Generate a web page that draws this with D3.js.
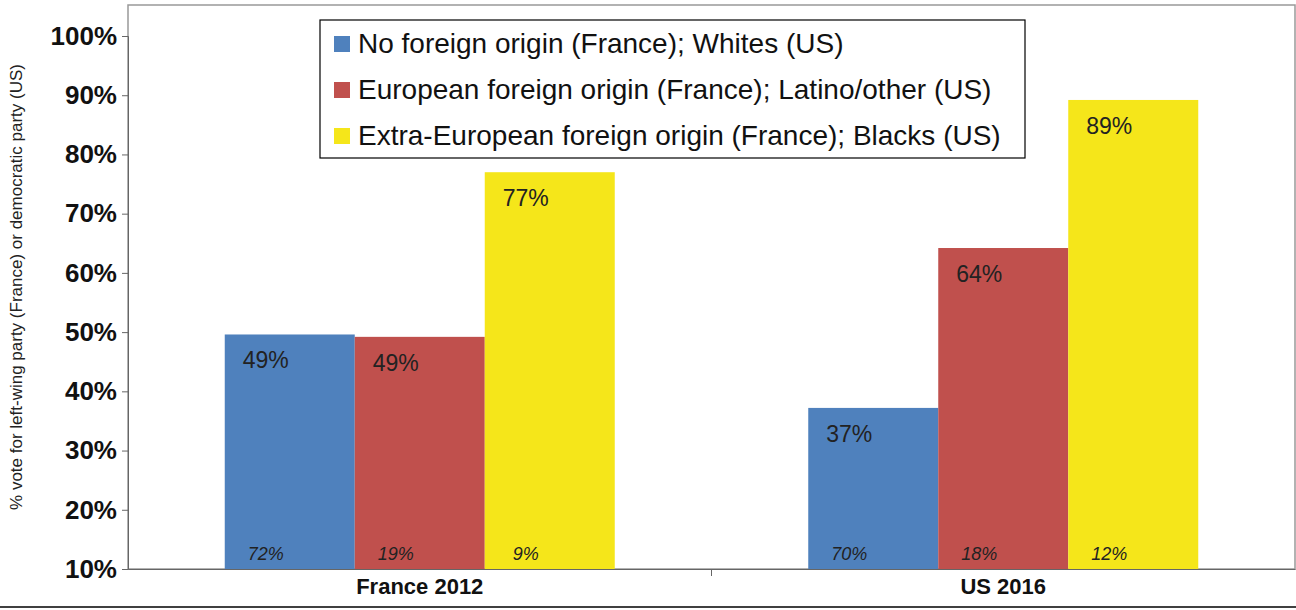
<!DOCTYPE html>
<html><head><meta charset="utf-8">
<script src="https://cdn.jsdelivr.net/npm/d3@7"></script>
<style>body{margin:0;background:#fff;font-family:"Liberation Sans",Arial,sans-serif}</style>
</head><body>
<svg id="c" width="1296" height="610"></svg>
<script>
// data
var categories = ["France 2012", "US 2016"];
var series = ["No foreign origin (France); Whites (US)",
              "European foreign origin (France); Latino/other (US)",
              "Extra-European foreign origin (France); Blacks (US)"];
var colors = ["#4f81bd", "#c0504d", "#f5e61a"];
var votes = [[49.6, 49.2, 77.0], [37.2, 64.2, 89.2]];
var voteLabels = [["49%", "49%", "77%"], ["37%", "64%", "89%"]];
var shareLabels = [["72%", "19%", "9%"], ["70%", "18%", "12%"]];
var yTicks = [10, 20, 30, 40, 50, 60, 70, 80, 90, 100];

var svg = d3.select("#c");
var L = 128, R = 1295, T = 5, B = 569;

var x0 = d3.scaleBand().domain(categories).range([L, R]);
var x1 = d3.scaleBand().domain(d3.range(3)).range([0, 390]);
var y = d3.scaleLinear().domain([10, 100]).range([B, 36]);

// plot frame
svg.append("rect").attr("x", L).attr("y", T).attr("width", R - L).attr("height", B - T)
  .attr("fill", "none").attr("stroke", "#999").attr("stroke-width", 1.5);

var g = svg.selectAll(".cat").data(categories).enter().append("g")
  .attr("transform", function(d) { return "translate(" + (x0(d) + x0.bandwidth() / 2 - 195) + ",0)"; });

g.each(function(c, ci) {
  var gg = d3.select(this);
  votes[ci].forEach(function(v, si) {
    var cx = x1(si) + x1.bandwidth() / 2 - 24;
    gg.append("rect").attr("x", x1(si)).attr("width", x1.bandwidth())
      .attr("y", y(v)).attr("height", B - y(v)).attr("fill", colors[si]);
    gg.append("text").attr("x", cx).attr("y", y(v) + 34)
      .attr("text-anchor", "middle").attr("font-size", 23).attr("fill", "#222").text(voteLabels[ci][si]);
    gg.append("text").attr("x", cx).attr("y", 560)
      .attr("text-anchor", "middle").attr("font-size", 18).attr("font-style", "italic")
      .attr("fill", "#222").text(shareLabels[ci][si]);
  });
});

// y axis
var ya = svg.append("g").attr("transform", "translate(" + L + ",0)")
  .call(d3.axisLeft(y).tickValues(yTicks).tickFormat(function(d) { return d + "%"; }).tickSize(6));
ya.select(".domain").attr("stroke", "#666");
ya.selectAll(".tick line").attr("stroke", "#666");
ya.selectAll("text").attr("font-size", 26).attr("font-weight", "bold").attr("fill", "#111")
  .attr("font-family", "Liberation Sans, Arial, sans-serif").attr("dx", -2);

// x axis
var xa = svg.append("g").attr("transform", "translate(0," + B + ")")
  .call(d3.axisBottom(x0).tickSize(0));
xa.select(".domain").attr("stroke", "#666");
xa.selectAll("text").attr("font-size", 22).attr("font-weight", "bold").attr("fill", "#111")
  .attr("font-family", "Liberation Sans, Arial, sans-serif").attr("dy", 22);
svg.append("line").attr("x1", x0.step() + L).attr("x2", x0.step() + L).attr("y1", B).attr("y2", B + 7).attr("stroke", "#666");
svg.append("line").attr("x1", 0).attr("x2", 1296).attr("y1", 607).attr("y2", 607).attr("stroke", "#000").attr("stroke-width", 1.5);

// y title
svg.append("text").attr("transform", "translate(22," + ((T + B) / 2) + ") rotate(-90)")
  .attr("text-anchor", "middle").attr("font-size", 17).attr("fill", "#222")
  .text("% vote for left-wing party (France) or democratic party (US)");

// legend
var lg = svg.append("g").attr("transform", "translate(320,20)");
lg.append("rect").attr("width", 705).attr("height", 138).attr("fill", "#fff").attr("stroke", "#000").attr("stroke-width", 1.2);
series.forEach(function(s, i) {
  lg.append("rect").attr("x", 14).attr("y", 16 + i * 46).attr("width", 16).attr("height", 16).attr("fill", colors[i]);
  lg.append("text").attr("x", 38).attr("y", 33 + i * 46).attr("font-size", 28).attr("fill", "#111").text(s);
});
</script>
</body></html>
